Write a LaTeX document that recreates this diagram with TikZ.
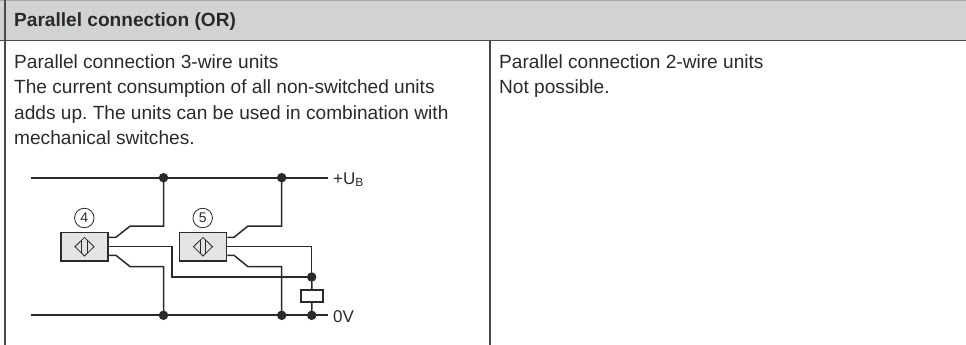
\documentclass[tikz,border=0pt]{standalone}
\usepackage{fontspec}
\setmainfont{Liberation Sans}
\definecolor{hdr}{HTML}{D1D2D4}
\definecolor{body}{HTML}{E3E4E5}
\definecolor{ink}{HTML}{2B2A29}
\tikzset{
  rail/.style={draw=ink,line width=1.8pt},
  wire/.style={draw=ink,line width=1.5pt},
  rule/.style={draw=ink!85,line width=1.7pt},
  txt/.style={anchor=base west,inner sep=0pt,text=ink,font=\fontsize{19.1}{19.1}\selectfont},
  lbl/.style={anchor=base west,inner sep=0pt,text=ink,font=\fontsize{17}{17}\selectfont},
  dotnode/.style={circle,fill=ink,inner sep=0pt,minimum size=9.5pt},
  sensor/.style={draw=ink,fill=body,line width=1.8pt,minimum width=47pt,minimum height=28.5pt,inner sep=0pt},
  badge/.style={circle,draw=ink,line width=0.8pt,minimum size=19.5pt,inner sep=0pt,text=ink,font=\fontsize{14}{14}\selectfont},
  loadbox/.style={draw=ink,fill=white,line width=1.5pt,minimum width=22pt,minimum height=12pt,inner sep=0pt},
  sym/.style={draw=ink,line width=0.8pt}
}
\begin{document}
\frenchspacing
\begin{tikzpicture}[x=1pt,y=-1pt]
\useasboundingbox (0,0) rectangle (966,345);
% table
\fill[hdr] (0,0) rectangle (966,40.5);
\draw[draw=gray!70,line width=1pt] (0,0.5) -- (966,0.5);
\draw[rule] (4.7,0) -- (4.7,345);
\draw[rule] (0,40.5) -- (966,40.5);
\draw[rule] (490,40.5) -- (490,345);
% texts
\node[txt,font=\fontsize{19.1}{19.1}\selectfont\bfseries] (title) at (14,26.7) {Parallel connection (OR)};
\node[txt] (l1) at (14,68) {Parallel connection 3-wire units};
\node[txt] (l2) at (14,93.8) {The current consumption of all non-switched units};
\node[txt] (l3) at (14,119) {adds up. The units can be used in combination with};
\node[txt] (l4) at (14,144.5) {mechanical switches.};
\node[txt] (r1) at (499,68) {Parallel connection 2-wire units};
\node[txt] (r2) at (499,93.8) {Not possible.};
% rail ends and junctions
\coordinate (tl) at (31,177.7);
\coordinate (tr) at (328,177.7);
\coordinate (bl) at (31,315.3);
\coordinate (br) at (328,315.3);
\node[dotnode] (t1) at (163.5,177.7) {};
\node[dotnode] (t2) at (281.7,177.7) {};
\node[dotnode] (b1) at (163.5,315.3) {};
\node[dotnode] (b2) at (281.7,315.3) {};
\node[dotnode] (b3) at (311.7,315.3) {};
\node[dotnode] (m3) at (311.7,277) {};
\draw[rail] (tl) -- (t1.center) -- (t2.center) -- (tr);
\draw[rail] (bl) -- (b1.center) -- (b2.center) -- (b3.center) -- (br);
% sensors
\node[sensor] (s1) at (84.5,246.7) {};
\node[sensor] (s2) at (203,246.7) {};
\node[badge] (n4) at (84.3,218) {4};
\node[badge] (n5) at (202.7,218) {5};
\foreach \s in {s1,s2}{
  \draw[sym] ([xshift=-9.5pt]\s.center) -- ([yshift=-9.3pt]\s.center) -- ([xshift=9.5pt]\s.center) -- ([yshift=9.3pt]\s.center) -- cycle;
  \draw[sym] ([xshift=-2.8pt,yshift=-6.6pt]\s.center) -- ([xshift=-2.8pt,yshift=6.6pt]\s.center);
  \draw[sym] ([xshift=2.8pt,yshift=-6.6pt]\s.center) -- ([xshift=2.8pt,yshift=6.6pt]\s.center);
}
% sensor 1 wires
\draw[wire] ([yshift=9.4pt]s1.east) -- ++(7,0) -- ++(14.3,-11.3) -| (t1.center);
\draw[wire] ([yshift=-8.6pt]s1.east) -- ++(7,0) -- ++(14.3,11.4) -| (b1.center);
\draw[wire] (s1.east) -- ++(63,0) |- (m3.center);
% sensor 2 wires
\draw[wire] ([yshift=9.4pt]s2.east) -- ++(6.6,0) -- ++(14,-11.3) -| (t2.center);
\draw[wire] ([yshift=-8.6pt]s2.east) -- ++(6.6,0) -- ++(14,11.4) -| (b2.center);
\draw[wire] (s2.east) -| (m3.center);
% load
\node[loadbox] (load) at (311.8,296) {};
\draw[wire] (m3.center) -- (load.north);
\draw[wire] (load.south) -- (b3.center);
% rail labels
\node[lbl] (ub) at (333,184) {+U\textsubscript{B}};
\node[lbl] (zv) at (333,322) {0V};
\end{tikzpicture}
\end{document}
